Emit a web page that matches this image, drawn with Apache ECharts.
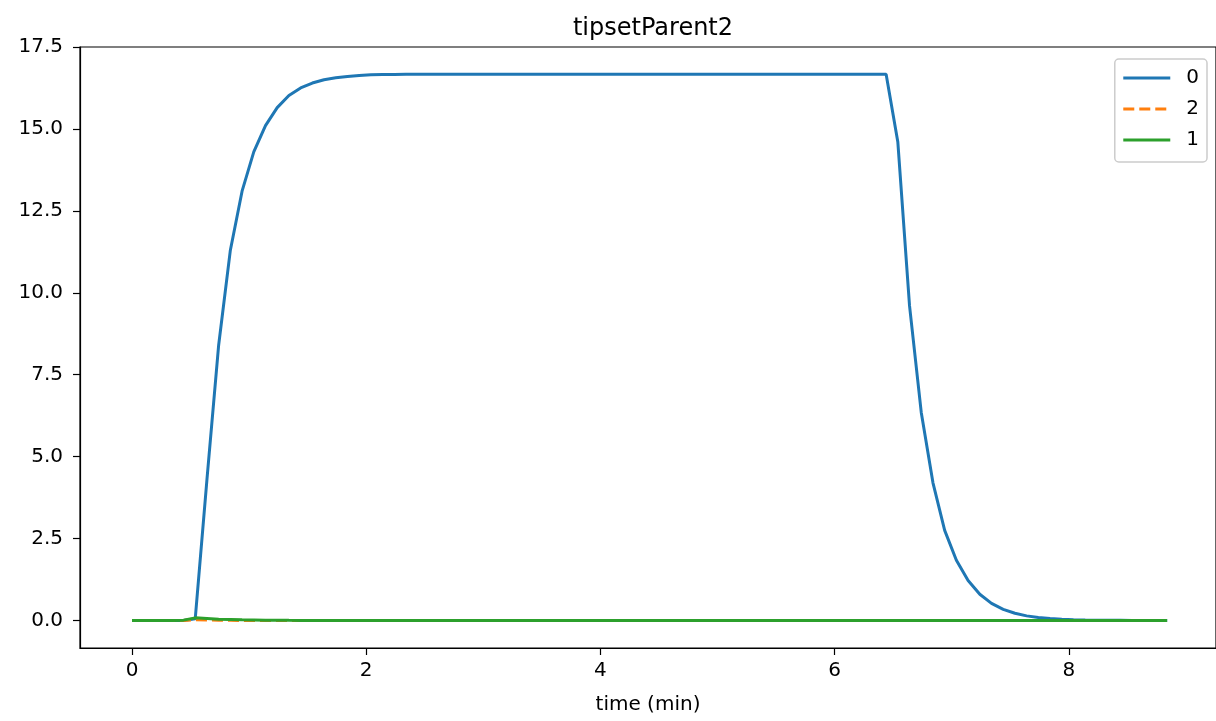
<!DOCTYPE html>
<html>
<head>
<meta charset="utf-8">
<script src="https://cdn.jsdelivr.net/npm/echarts@6/dist/echarts.min.js"></script>
<style>
html,body{margin:0;padding:0;background:#fff;}
#chart{width:1216px;height:721px;}
</style>
</head>
<body>
<div id="chart"></div>
<script>
// time (min)
var times = [
  0, 0.14, 0.24, 0.34, 0.44, 0.54, 0.64, 0.74, 0.84, 0.94,
  1.04, 1.14, 1.24, 1.34, 1.44, 1.54, 1.64, 1.74, 1.84, 1.94,
  2.04, 2.14, 2.24, 2.34, 2.44, 2.54, 2.64, 2.74, 2.84, 2.94,
  3.04, 3.14, 3.24, 3.34, 3.44, 3.54, 3.64, 3.74, 3.84, 3.94,
  4.04, 4.14, 4.24, 4.34, 4.44, 4.54, 4.64, 4.74, 4.84, 4.94,
  5.04, 5.14, 5.24, 5.34, 5.44, 5.54, 5.64, 5.74, 5.84, 5.94,
  6.04, 6.14, 6.24, 6.34, 6.44, 6.54, 6.64, 6.74, 6.84, 6.94,
  7.04, 7.14, 7.24, 7.34, 7.44, 7.54, 7.64, 7.74, 7.84, 7.94,
  8.04, 8.14, 8.24, 8.34, 8.44, 8.54, 8.64, 8.74, 8.84
];
// series "0"
var series0 = [
  0, 0, 0, 0, 0, 0.05, 4.3, 8.4, 11.3, 13.1,
  14.3, 15.1, 15.65, 16.02, 16.25, 16.4, 16.5, 16.56, 16.6, 16.63,
  16.65, 16.66, 16.66, 16.67, 16.67, 16.67, 16.67, 16.67, 16.67, 16.67,
  16.67, 16.67, 16.67, 16.67, 16.67, 16.67, 16.67, 16.67, 16.67, 16.67,
  16.67, 16.67, 16.67, 16.67, 16.67, 16.67, 16.67, 16.67, 16.67, 16.67,
  16.67, 16.67, 16.67, 16.67, 16.67, 16.67, 16.67, 16.67, 16.67, 16.67,
  16.67, 16.67, 16.67, 16.67, 16.67, 14.6, 9.6, 6.35, 4.2, 2.75,
  1.84, 1.22, 0.8, 0.52, 0.34, 0.22, 0.14, 0.09, 0.06, 0.04,
  0.025, 0.016, 0.01, 0.007, 0.005, 0.003, 0.002, 0.001, 0.001
];
// series "2"
var series2 = [
  0, 0, 0, 0, 0, 0.02, 0.015, 0.01, 0.005, 0,
  0, 0, 0, 0, 0, 0, 0, 0, 0, 0,
  0, 0, 0, 0, 0, 0, 0, 0, 0, 0,
  0, 0, 0, 0, 0, 0, 0, 0, 0, 0,
  0, 0, 0, 0, 0, 0, 0, 0, 0, 0,
  0, 0, 0, 0, 0, 0, 0, 0, 0, 0,
  0, 0, 0, 0, 0, 0, 0, 0, 0, 0,
  0, 0, 0, 0, 0, 0, 0, 0, 0, 0,
  0, 0, 0, 0, 0, 0, 0, 0, 0
];
// series "1"
var series1 = [
  0, 0, 0, 0, 0.01, 0.08, 0.06, 0.04, 0.03, 0.02,
  0.015, 0.01, 0.008, 0.005, 0.003, 0.002, 0.001, 0, 0, 0,
  0, 0, 0, 0, 0, 0, 0, 0, 0, 0,
  0, 0, 0, 0, 0, 0, 0, 0, 0, 0,
  0, 0, 0, 0, 0, 0, 0, 0, 0, 0,
  0, 0, 0, 0, 0, 0, 0, 0, 0, 0,
  0, 0, 0, 0, 0, 0, 0, 0, 0, 0,
  0, 0, 0, 0, 0, 0, 0, 0, 0, 0,
  0, 0, 0, 0, 0, 0, 0, 0, 0
];
var xTicks = [0, 2, 4, 6, 8];
var yTicks = [0, 2.5, 5, 7.5, 10, 12.5, 15, 17.5];

function pairs(vals){ return times.map(function(t,i){ return [t, vals[i]]; }); }

var FONT = 'DejaVu Sans';
var chart = echarts.init(document.getElementById('chart'), null, {renderer:'canvas'});
chart.setOption({
  animation: false,
  backgroundColor: '#fff',
  textStyle: {fontFamily: FONT, color: '#000'},
  title: {
    text: 'tipsetParent2',
    left: 648, top: 12, textAlign: 'center',
    textStyle: {fontFamily: FONT, fontSize: 24, fontWeight: 'normal', color: '#000'}
  },
  grid: {
    left: 80, right: 0, top: 47, bottom: 73,
    show: true, borderColor: '#000', borderWidth: 1.2, containLabel: false
  },
  legend: {
    data: ['0', '2', '1'],
    orient: 'vertical',
    right: 9, top: 59,
    itemWidth: 47, itemHeight: 20, itemGap: 11,
    padding: [9, 8, 12, 7],
    borderColor: '#cccccc', borderWidth: 1.5, borderRadius: 4,
    backgroundColor: '#fff',
    itemStyle: {opacity: 0},
    lineStyle: {width: 3},
    textStyle: {fontFamily: FONT, fontSize: 20, color: '#000', padding: [0, 0, 0, 11]}
  },
  xAxis: {
    type: 'value',
    min: -0.444, max: 9.257,
    name: 'time (min)', nameLocation: 'middle', nameGap: 47,
    nameTextStyle: {fontFamily: FONT, fontSize: 20, color: '#000'},
    axisLine: {show: true, onZero: false, lineStyle: {color: '#000', width: 1.2}},
    axisTick: {show: true, length: 7, customValues: xTicks, lineStyle: {color: '#000', width: 1.2}},
    axisLabel: {customValues: xTicks, fontFamily: FONT, fontSize: 20, color: '#000', margin: 13},
    splitLine: {show: false}
  },
  yAxis: {
    type: 'value',
    min: -0.84, max: 17.5,
    axisLine: {show: true, onZero: false, lineStyle: {color: '#000', width: 1.2}},
    axisTick: {show: true, length: 7, customValues: yTicks, lineStyle: {color: '#000', width: 1.2}},
    axisLabel: {customValues: yTicks, fontFamily: FONT, fontSize: 20, color: '#000', margin: 17,
      formatter: function(v){ return v.toFixed(1); }},
    splitLine: {show: false}
  },
  series: [
    {name: '0', type: 'line', data: pairs(series0), showSymbol: false, symbol: 'none',
      color: '#1f77b4', lineStyle: {color: '#1f77b4', width: 3}, z: 2},
    {name: '2', type: 'line', data: pairs(series2), showSymbol: false, symbol: 'none',
      color: '#ff7f0e', lineStyle: {color: '#ff7f0e', width: 3, type: [11, 5]}, z: 3},
    {name: '1', type: 'line', data: pairs(series1), showSymbol: false, symbol: 'none',
      color: '#2ca02c', lineStyle: {color: '#2ca02c', width: 3}, z: 4}
  ]
});
</script>
</body>
</html>
